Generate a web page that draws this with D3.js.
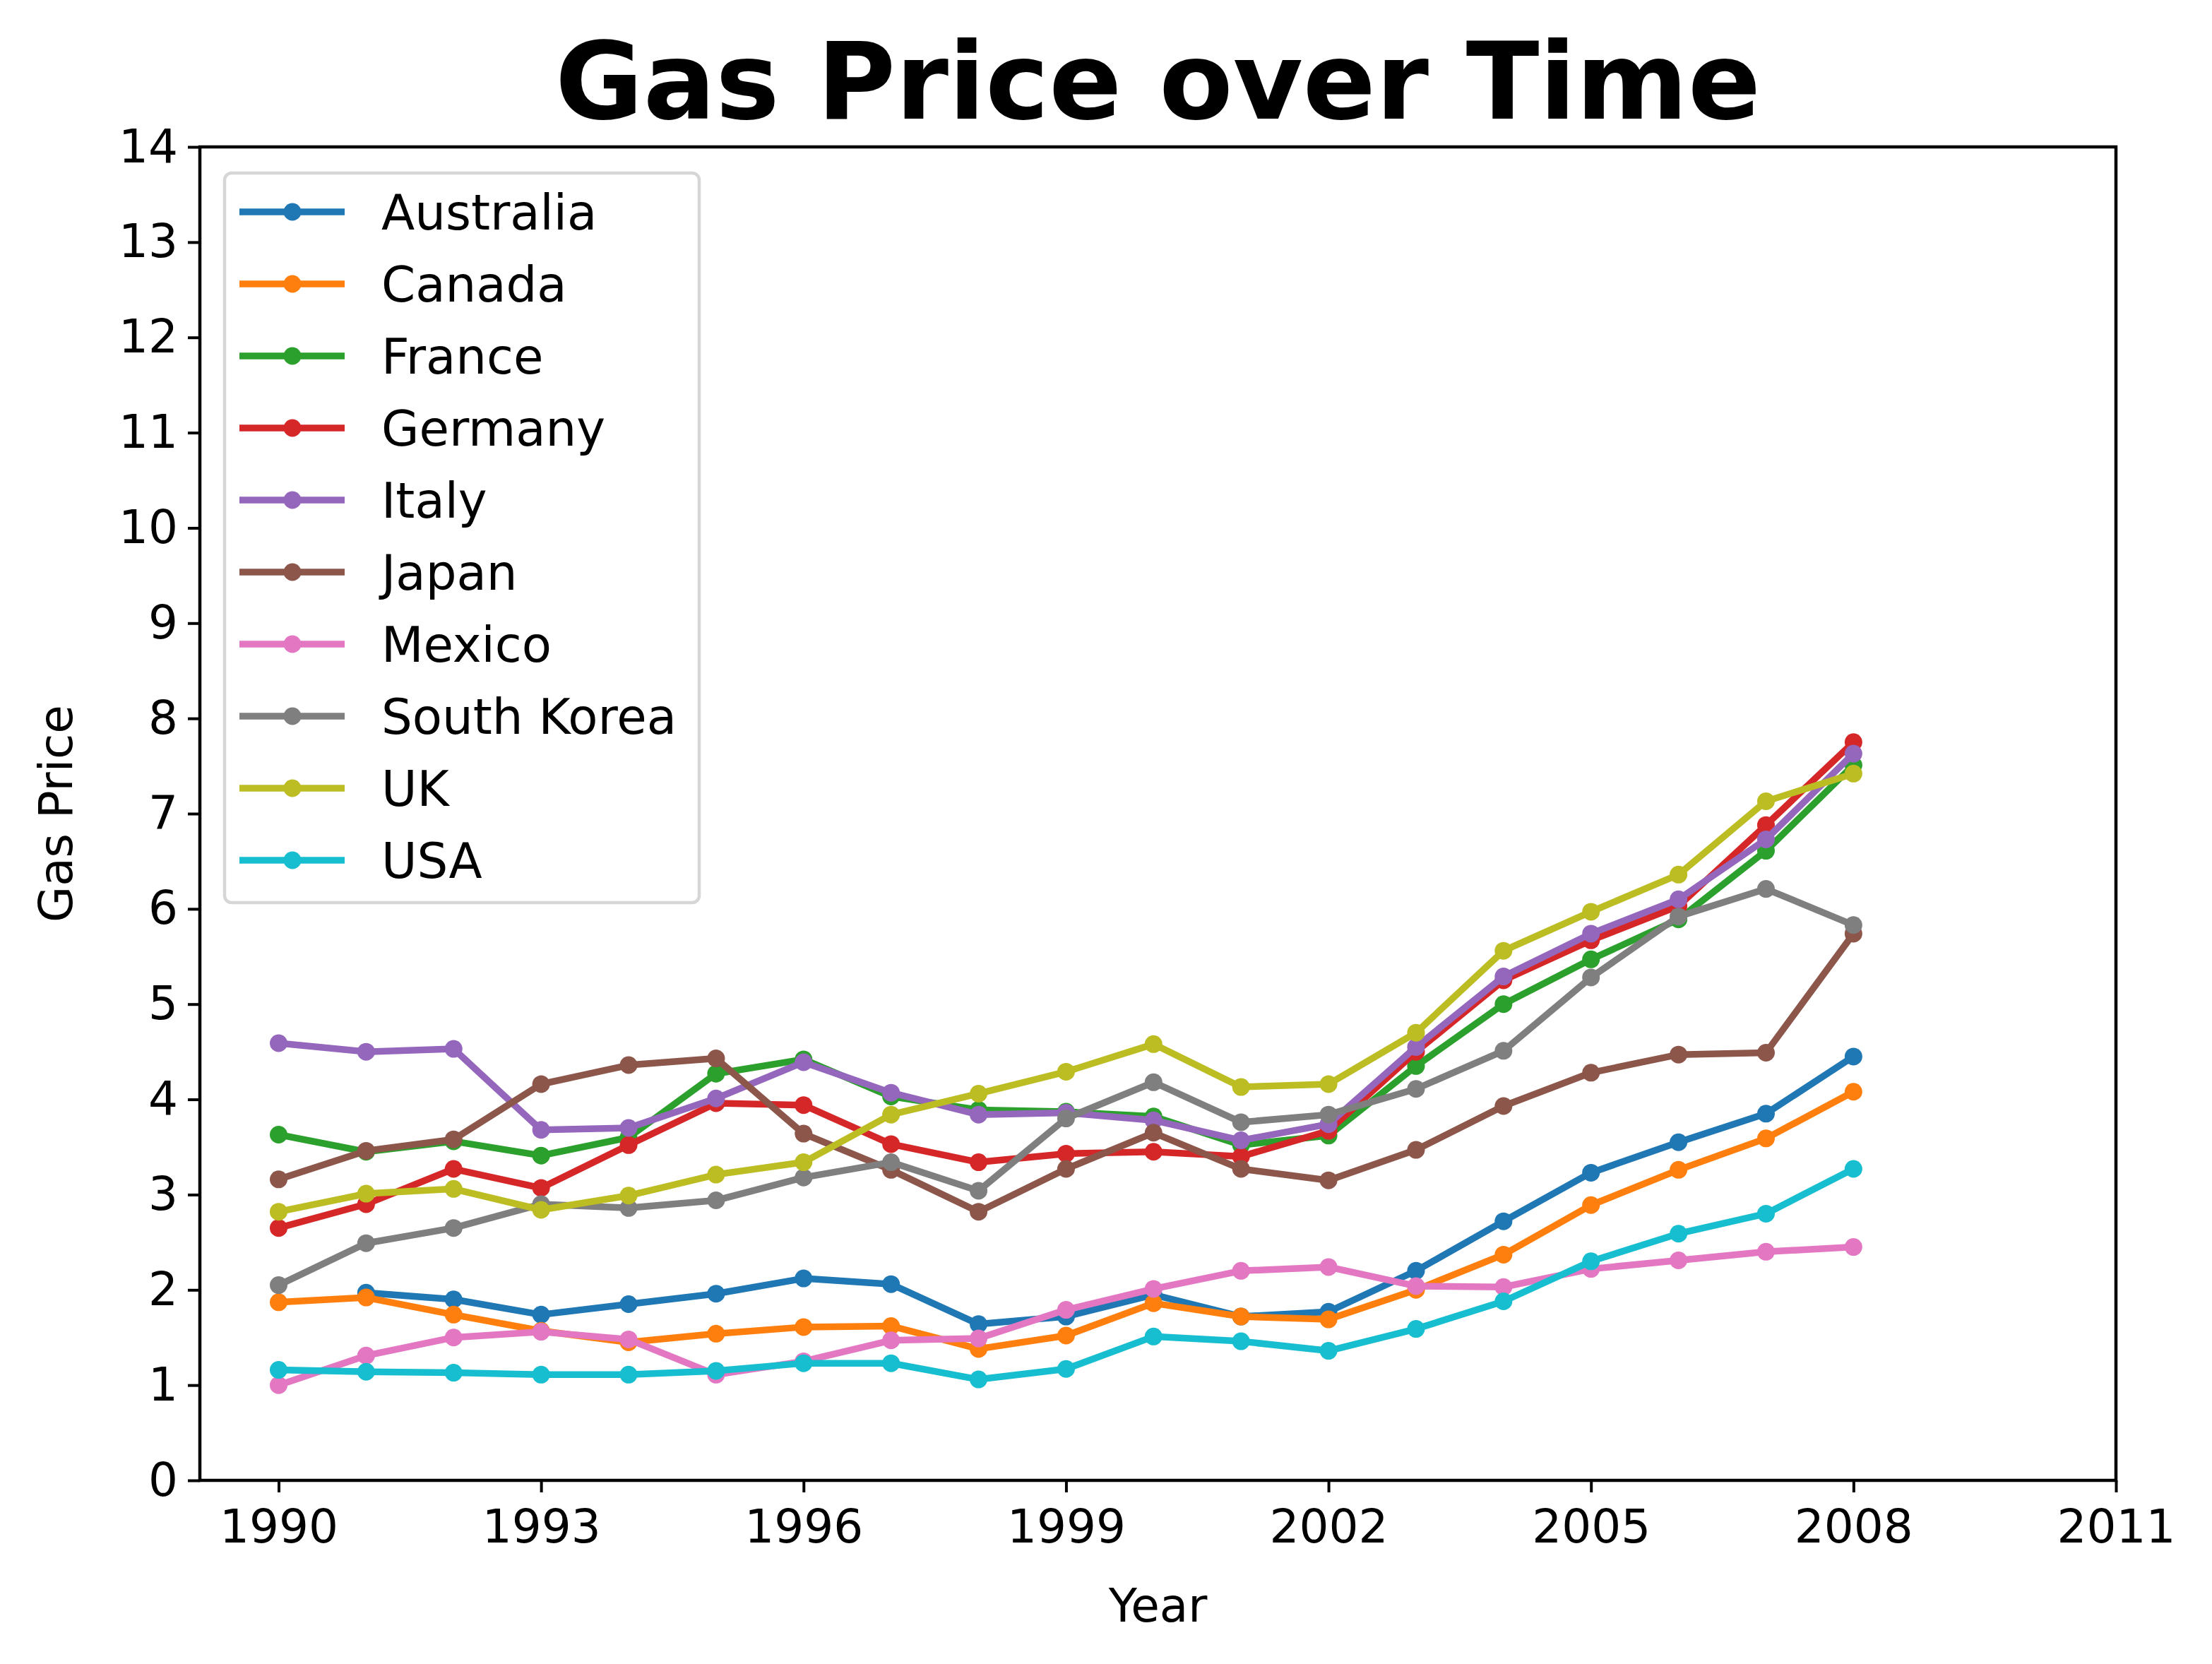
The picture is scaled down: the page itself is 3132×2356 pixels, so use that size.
<!DOCTYPE html>
<html><head><meta charset="utf-8">
<script src="https://cdn.jsdelivr.net/npm/d3@7"></script>
<style>body{margin:0;background:#fff}svg{display:block}text{font-family:"DejaVu Sans",sans-serif}</style>
</head><body>
<script>
const years = d3.range(1990, 2009);
const countries = ["Australia","Canada","France","Germany","Italy","Japan","Mexico","South Korea","UK","USA"];
const colors = ["#1f77b4","#ff7f0e","#2ca02c","#d62728","#9467bd","#8c564b","#e377c2","#7f7f7f","#bcbd22","#17becf"];
const australia = [null,1.97,1.90,1.74,1.85,1.96,2.12,2.06,1.64,1.72,1.95,1.72,1.77,2.20,2.72,3.23,3.55,3.85,4.45];
const canada    = [1.87,1.92,1.74,1.57,1.45,1.54,1.61,1.62,1.38,1.52,1.86,1.72,1.69,2.00,2.37,2.89,3.26,3.59,4.08];
const france    = [3.63,3.45,3.56,3.41,3.60,4.27,4.42,4.03,3.89,3.87,3.82,3.52,3.62,4.35,5.00,5.47,5.89,6.61,7.51];
const germany   = [2.65,2.90,3.27,3.07,3.52,3.96,3.94,3.53,3.34,3.43,3.45,3.40,3.67,4.50,5.25,5.67,6.03,6.88,7.75];
const italy     = [4.59,4.50,4.53,3.68,3.70,4.01,4.39,4.07,3.84,3.86,3.78,3.57,3.74,4.55,5.29,5.74,6.10,6.73,7.63];
const japan     = [3.16,3.46,3.58,4.16,4.36,4.43,3.64,3.26,2.82,3.27,3.65,3.27,3.15,3.47,3.93,4.28,4.47,4.49,5.74];
const mexico    = [1.00,1.31,1.50,1.56,1.48,1.11,1.25,1.47,1.49,1.79,2.01,2.20,2.24,2.04,2.03,2.22,2.31,2.40,2.45];
const southKorea= [2.05,2.49,2.65,2.90,2.86,2.94,3.18,3.34,3.04,3.80,4.18,3.76,3.84,4.11,4.51,5.28,5.92,6.21,5.83];
const uk        = [2.82,3.01,3.06,2.84,2.99,3.21,3.34,3.84,4.06,4.29,4.58,4.13,4.16,4.70,5.56,5.97,6.36,7.13,7.42];
const usa       = [1.16,1.14,1.13,1.11,1.11,1.15,1.23,1.23,1.06,1.17,1.51,1.46,1.36,1.59,1.88,2.30,2.59,2.80,3.27];
const seriesValues = [australia,canada,france,germany,italy,japan,mexico,southKorea,uk,usa];
const xTicks = [1990,1993,1996,1999,2002,2005,2008,2011];
const yTicks = d3.range(0, 15);

const W = 3132, H = 2356;
const m = {left:283, right:W-2996, top:208, bottom:H-2096};
const svg = d3.select("body").append("svg").attr("width",W).attr("height",H);
const x = d3.scaleLinear().domain([1989.1, 2011]).range([m.left, W-m.right]);
const y = d3.scaleLinear().domain([0, 14]).range([H-m.bottom, m.top]);

const fs = 66, fsLeg = 69;
const lw = 9.5, mr = 12.5;

// lines
const line = d3.line().defined(d=>d.v!=null).x(d=>x(d.year)).y(d=>y(d.v));
countries.forEach((c,i)=>{
  const pts = years.map((yr,j)=>({year:yr, v:seriesValues[i][j]}));
  const g = svg.append("g");
  g.append("path").datum(pts).attr("d",line).attr("fill","none")
    .attr("stroke",colors[i]).attr("stroke-width",lw).attr("stroke-linejoin","round").attr("stroke-linecap","square");
  g.selectAll("circle").data(pts.filter(d=>d.v!=null)).join("circle")
    .attr("cx",d=>x(d.year)).attr("cy",d=>y(d.v)).attr("r",mr).attr("fill",colors[i]);
});

// axes
const xAxis = d3.axisBottom(x).tickValues(xTicks).tickFormat(d3.format("d")).tickSize(17).tickPadding(24);
const yAxis = d3.axisLeft(y).tickValues(yTicks).tickSize(17).tickPadding(14);
const gx = svg.append("g").attr("transform",`translate(0,${H-m.bottom})`).call(xAxis);
const gy = svg.append("g").attr("transform",`translate(${m.left},0)`).call(yAxis);
[gx,gy].forEach(g=>{
  g.select(".domain").remove();
  g.selectAll(".tick line").attr("stroke","#000").attr("stroke-width",4);
  g.selectAll(".tick text").attr("font-size",fs).attr("fill","#000").attr("font-family","DejaVu Sans");
});
// frame
svg.append("rect").attr("x",m.left).attr("y",m.top).attr("width",W-m.left-m.right).attr("height",H-m.top-m.bottom)
  .attr("fill","none").attr("stroke","#000").attr("stroke-width",4.5);

// labels
svg.append("text").attr("x",(m.left+W-m.right)/2).attr("y",2296).attr("text-anchor","middle").attr("font-size",fs).text("Year");
svg.append("text").attr("transform",`translate(102,${(m.top+H-m.bottom)/2}) rotate(-90)`).attr("text-anchor","middle").attr("font-size",fs).text("Gas Price");
svg.append("text").attr("x",(m.left+W-m.right)/2).attr("y",168).attr("text-anchor","middle")
  .attr("font-size",152).attr("font-weight","bold").text("Gas Price over Time");

// legend
const lg = svg.append("g");
lg.append("rect").attr("x",318).attr("y",245).attr("width",672).attr("height",1033).attr("rx",10)
  .attr("fill","#fff").attr("fill-opacity",0.8).attr("stroke","#d6d6d6").attr("stroke-width",4.5);
countries.forEach((c,i)=>{
  const yy = 300 + i*102;
  lg.append("line").attr("x1",339).attr("x2",488).attr("y1",yy).attr("y2",yy).attr("stroke",colors[i]).attr("stroke-width",lw);
  lg.append("circle").attr("cx",414).attr("cy",yy).attr("r",mr).attr("fill",colors[i]);
  lg.append("text").attr("x",540).attr("y",yy).attr("dy","0.36em").attr("font-size",fsLeg).text(c);
});
</script>
</body></html>
